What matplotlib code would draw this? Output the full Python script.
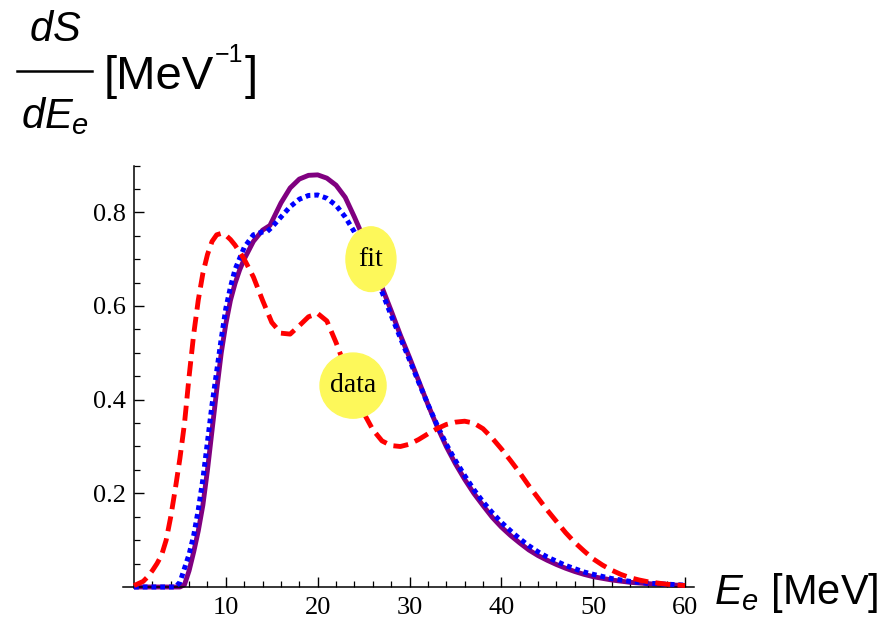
import numpy as np
import matplotlib.pyplot as plt
from matplotlib.patches import Ellipse
from matplotlib.lines import Line2D

plt.rcParams['mathtext.fontset'] = 'custom'
plt.rcParams['mathtext.rm'] = 'Liberation Sans'
plt.rcParams['mathtext.it'] = 'Liberation Sans:italic'

# curva ajustada (fit, linea continua morada)
x_fit = [0, 1, 2, 3, 4, 5, 5.5, 6, 6.5, 7, 7.5, 8, 8.5, 9, 9.5, 10, 10.5, 11, 11.5, 12,
         13, 14, 14.8, 15.5, 16, 17, 18, 19, 20, 21, 22, 23, 24, 25, 26, 27, 28, 29, 30,
         31, 32, 33, 34, 35, 36, 37, 38, 39, 40, 41, 42, 43, 44, 45, 46, 47, 48, 49, 50,
         52, 54, 56, 58, 60]
y_fit = [0, 0, 0, 0, 0, 0, 0.005, 0.035, 0.075, 0.12, 0.175, 0.25, 0.335, 0.42, 0.50, 0.562,
         0.612, 0.648, 0.677, 0.70, 0.738, 0.762, 0.772, 0.80, 0.82, 0.852, 0.871, 0.879, 0.88,
         0.873, 0.858, 0.832, 0.79, 0.745, 0.69, 0.64, 0.59, 0.538, 0.49, 0.44, 0.39, 0.343,
         0.30, 0.263, 0.23, 0.20, 0.174, 0.149, 0.128, 0.11, 0.094, 0.079, 0.067, 0.057,
         0.048, 0.040, 0.033, 0.027, 0.022, 0.015, 0.010, 0.007, 0.005, 0.003]

# curva azul punteada
x_blue = [0, 1, 2, 3, 4, 4.5, 5, 5.5, 6, 6.5, 7, 7.5, 8, 8.5, 9, 9.5, 10, 10.5, 11, 12,
          13, 14, 14.5, 15, 16, 17, 18, 19, 20, 21, 22, 23, 24, 25, 26, 27, 28, 29, 30,
          31, 32, 33, 34, 35, 36, 37, 38, 39, 40, 41, 42, 43, 44, 45, 46, 47, 48, 49, 50,
          52, 54, 56, 58, 60]
y_blue = [0, 0, 0, 0, 0, 0.0, 0.01, 0.04, 0.07, 0.11, 0.165, 0.23, 0.31, 0.39, 0.46, 0.53,
          0.595, 0.64, 0.678, 0.725, 0.752, 0.758, 0.759, 0.768, 0.79, 0.812, 0.828, 0.836,
          0.837, 0.83, 0.815, 0.79, 0.758, 0.72, 0.68, 0.63, 0.58, 0.532, 0.485, 0.437, 0.39,
          0.346, 0.305, 0.27, 0.238, 0.208, 0.182, 0.159, 0.138, 0.12, 0.103, 0.088, 0.075,
          0.064, 0.055, 0.046, 0.039, 0.032, 0.027, 0.018, 0.012, 0.008, 0.006, 0.004]

# datos (linea roja discontinua)
x_data = [0, 1, 1.5, 2, 2.5, 3, 3.5, 4, 4.5, 5, 5.5, 6, 6.5, 7, 7.5, 8, 8.5, 9, 9.5, 10,
          10.5, 11, 12, 13, 14, 15, 16, 17, 18, 19, 20, 21, 22, 23, 24, 25, 26, 27, 28, 29,
          30, 31, 32, 33, 34, 35, 36, 37, 38, 39, 40, 41, 42, 43, 44, 45, 46, 47, 48, 49,
          50, 51, 52, 53, 54, 55, 56, 58, 60]
y_data = [0.003, 0.012, 0.022, 0.035, 0.05, 0.068, 0.10, 0.15, 0.21, 0.275, 0.35, 0.45, 0.54,
          0.613, 0.67, 0.71, 0.738, 0.752, 0.755, 0.751, 0.742, 0.73, 0.70, 0.662, 0.612, 0.565,
          0.542, 0.54, 0.558, 0.577, 0.584, 0.568, 0.522, 0.47, 0.42, 0.372, 0.336, 0.312,
          0.302, 0.30, 0.305, 0.315, 0.327, 0.338, 0.347, 0.352, 0.354, 0.35, 0.338, 0.318,
          0.295, 0.27, 0.244, 0.216, 0.19, 0.164, 0.14, 0.116, 0.095, 0.077, 0.06, 0.047,
          0.036, 0.027, 0.02, 0.015, 0.011, 0.006, 0.003]

x_ticks = [10, 20, 30, 40, 50, 60]
y_ticks = [0.2, 0.4, 0.6, 0.8]

W, H = 895, 623
fig = plt.figure(figsize=(W / 100, H / 100), dpi=100)
ax = fig.add_axes([123 / W, 1 - 588.4 / H, 571.2 / W, 422.9 / H])

ax.plot(x_fit, y_fit, color='#800080', lw=3.5, solid_capstyle='butt', clip_on=False, zorder=2)
ax.plot(x_blue, y_blue, color='#0000ff', lw=3.6, linestyle=(0, (0.95, 0.8)),
        dash_capstyle='butt', clip_on=False, zorder=3)
ax.plot(x_data, y_data, color='#ff0000', lw=3.5, linestyle=(0, (3.1, 1.5)),
        dash_capstyle='butt', clip_on=False, zorder=4)

# globos amarillos
amarillo = '#fdf85a'
ax.add_patch(Ellipse((25.8, 0.70), 5.44, 0.138, color=amarillo, zorder=6))
ax.text(25.8, 0.70, 'fit', ha='center', va='center', fontsize=20,
        family='Liberation Serif', zorder=7)
ax.add_patch(Ellipse((23.85, 0.43), 7.19, 0.139, color=amarillo, zorder=6))
ax.text(23.85, 0.43, 'data', ha='center', va='center', fontsize=20,
        family='Liberation Serif', zorder=7)

# ejes estilo Mathematica
ax.set_xlim(-1.2, 61)
ax.set_ylim(-0.003, 0.9)
ax.spines['left'].set_position(('data', 0))
ax.spines['bottom'].set_position(('data', 0))
ax.spines['top'].set_visible(False)
ax.spines['right'].set_visible(False)
for s in ['left', 'bottom']:
    ax.spines[s].set_linewidth(1.1)

ax.set_xticks(x_ticks)
ax.set_xticks(np.arange(2, 61, 2), minor=True)
ax.set_yticks(y_ticks)
ax.set_yticks(np.arange(0.05, 0.91, 0.05), minor=True)
ax.set_xticklabels([str(v) for v in x_ticks])
ax.set_yticklabels([f'{v:.1f}' for v in y_ticks])
ax.tick_params(which='major', direction='in', length=7, width=1.0, labelsize=19, pad=7)
ax.tick_params(which='minor', direction='in', length=4.5, width=0.9)
ax.tick_params(axis='y', which='major', pad=6)
for lab in ax.get_xticklabels() + ax.get_yticklabels():
    lab.set_family('Liberation Serif')


def px(x, y):
    return x / W, 1 - y / H


# etiqueta eje x
fig.text(*px(714, 604), r'$E_e$ [MeV]', fontsize=30, family='Liberation Sans',
         va='baseline', ha='left')

# etiqueta eje y (fraccion)
fig.text(*px(55, 41), r'$dS$', fontsize=30, family='Liberation Sans', va='baseline', ha='center')
fig.text(*px(55, 128), r'$dE_e$', fontsize=30, family='Liberation Sans', va='baseline', ha='center')
fig.add_artist(Line2D([17 / W, 92 / W], [1 - 71 / H, 1 - 71 / H], color='black', lw=1.8))

fig.canvas.draw()
rend = fig.canvas.get_renderer()
t1 = fig.text(*px(104, 89), '[MeV', fontsize=34, family='Liberation Sans',
              va='baseline', ha='left')
bb = t1.get_window_extent(rend)
t2 = fig.text((bb.x1 + 1) / W, 1 - 62 / H, '\u22121', fontsize=18, family='Liberation Sans',
              va='baseline', ha='left')
bb2 = t2.get_window_extent(rend)
fig.text((bb2.x1 + 1) / W, 1 - 89 / H, ']', fontsize=34, family='Liberation Sans',
         va='baseline', ha='left')

fig.savefig('out.png', dpi=100)
